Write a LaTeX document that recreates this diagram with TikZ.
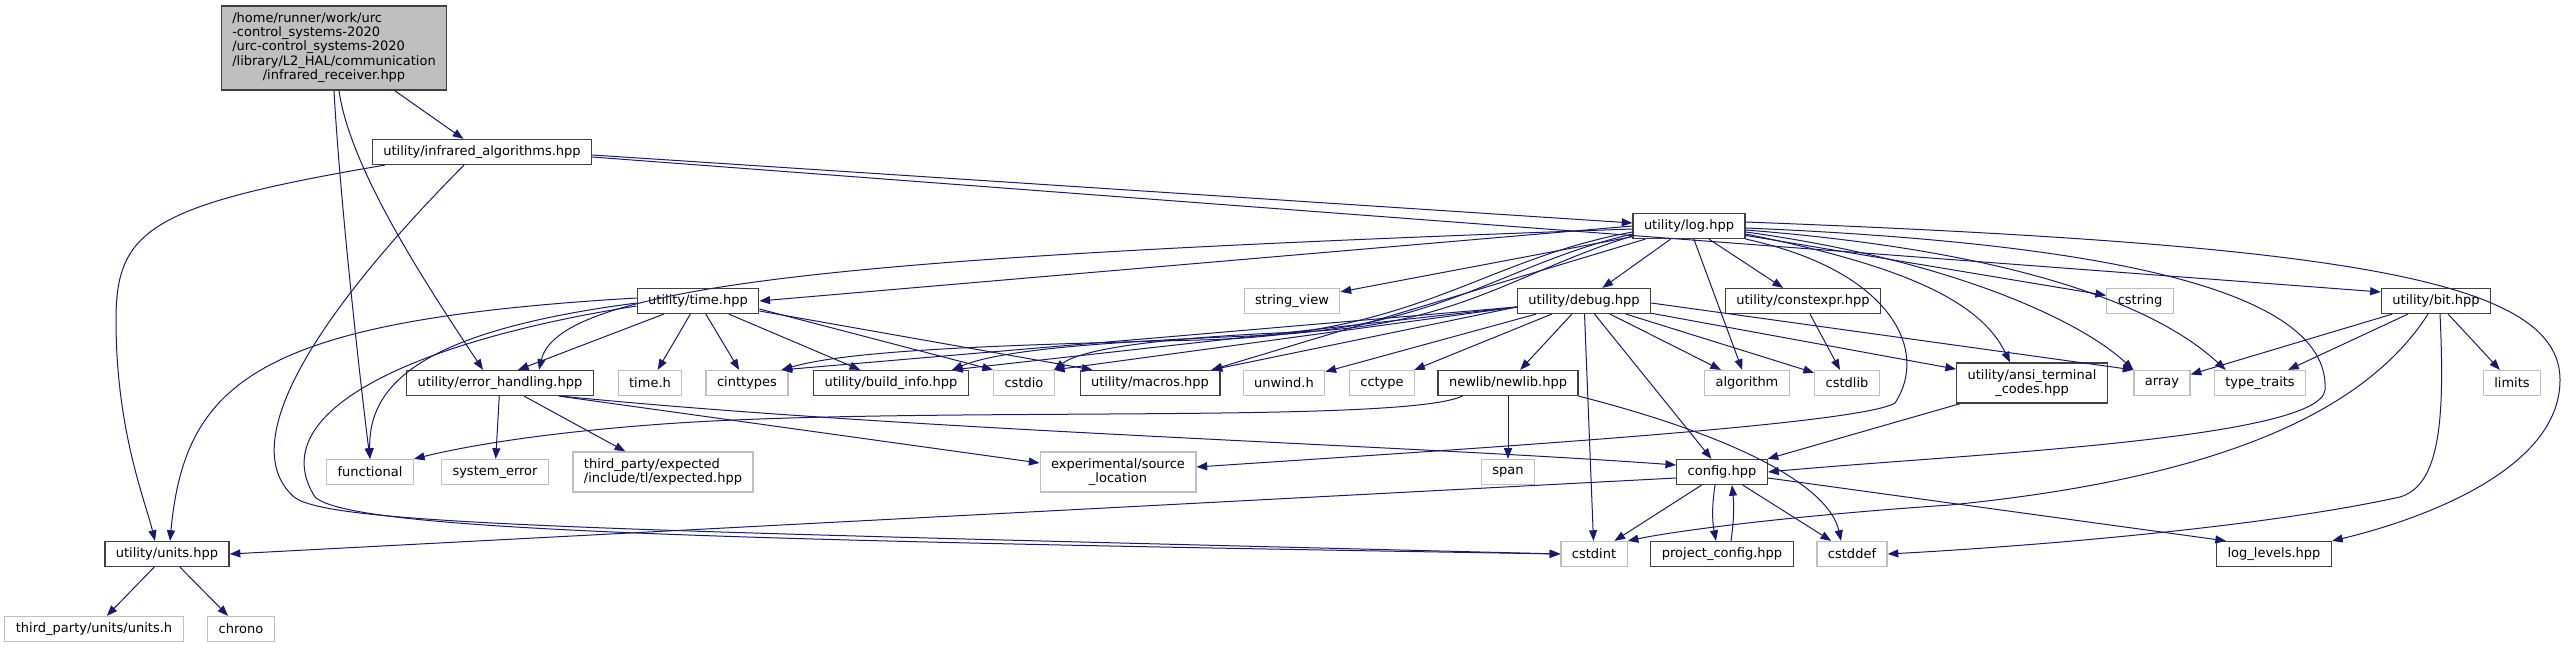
\documentclass[tikz,border=0pt]{standalone}
\usepackage{fontspec}
\setmainfont{DejaVu Sans}
\usetikzlibrary{arrows.meta,calc}

\definecolor{edgeblue}{HTML}{191970}
\definecolor{boxdark}{HTML}{404040}
\definecolor{boxgray}{HTML}{BFBFBF}

\tikzset{
  hdr/.style={draw=boxdark,line width=0.9pt,fill=white,minimum height=18.75pt,
    inner xsep=8.25pt,inner ysep=2pt,font=\fontsize{9.75pt}{10.8pt}\selectfont},
  sys/.style={hdr,draw=boxgray},
  twoline/.style={minimum height=30pt,align=center},
  inc/.style={draw=edgeblue,line width=0.75pt,-{Triangle[length=8pt,width=6pt]}},
}

\begin{document}
\begin{tikzpicture}[x=0.75pt,y=-0.75pt]
\useasboundingbox (0,0) rectangle (2569,648);

\node[hdr,fill=boxgray,minimum height=63pt] (main) at (334,48)
  {\begin{tabular}{@{}l@{}}/home/runner/work/urc\\-control\_systems-2020\\/urc-control\_systems-2020\\/library/L2\_HAL/communication\\\multicolumn{1}{@{}c@{}}{/infrared\_receiver.hpp}\end{tabular}};
\node[hdr] (ira) at (482,152) {utility/infrared\_algorithms.hpp};
\node[hdr] (log) at (1689,226) {utility/log.hpp};

\node[hdr] (timehpp) at (698,301) {utility/time.hpp};
\node[sys] (sview) at (1292,301) {string\_view};
\node[hdr] (debug) at (1584,301) {utility/debug.hpp};
\node[hdr] (cexpr) at (1803,301) {utility/constexpr.hpp};
\node[sys] (cstring) at (2140,301) {cstring};
\node[hdr] (bit) at (2436,301) {utility/bit.hpp};

\node[hdr] (errh) at (500,383) {utility/error\_handling.hpp};
\node[sys] (timeh) at (650,383) {time.h};
\node[sys] (cinttypes) at (747,383) {cinttypes};
\node[hdr] (binfo) at (891,383) {utility/build\_info.hpp};
\node[sys] (cstdio) at (1024,383) {cstdio};
\node[hdr] (macros) at (1150,383) {utility/macros.hpp};
\node[sys] (unwind) at (1284,383) {unwind.h};
\node[sys] (cctype) at (1382,383) {cctype};
\node[hdr] (newlib) at (1508,383) {newlib/newlib.hpp};
\node[sys] (algorithm) at (1747,383) {algorithm};
\node[sys] (cstdlib) at (1847,383) {cstdlib};
\node[hdr,twoline] (ansi) at (2032,383) {utility/ansi\_terminal\\\_codes.hpp};
\node[sys] (array) at (2162,383) {array};
\node[sys] (ttraits) at (2260,383) {type\_traits};
\node[sys] (limits) at (2512,383) {limits};

\node[sys] (functional) at (370,472) {functional};
\node[sys] (syserr) at (495,472) {system\_error};
\node[sys,twoline,align=left] (expected) at (663,472) {third\_party/expected\\/include/tl/expected.hpp};
\node[sys,twoline] (srcloc) at (1118,472) {experimental/source\\\_location};
\node[sys] (span) at (1508,472) {span};
\node[hdr] (config) at (1722,472) {config.hpp};

\node[hdr] (units) at (167,554) {utility/units.hpp};
\node[sys] (cstdint) at (1594,554) {cstdint};
\node[hdr] (pconfig) at (1722,554) {project\_config.hpp};
\node[sys] (cstddef) at (1852,554) {cstddef};
\node[hdr] (loglevels) at (2274,554) {log\_levels.hpp};

\node[sys] (unitsh) at (94,629) {third\_party/units/units.h};
\node[sys] (chrono) at (241,629) {chrono};

\draw[inc] (main) -- (ira);
\draw[inc] (main.south) .. controls (340,200) and (360,380) .. (functional.north);
\draw[inc] ($(main.south)+(5,0)$) .. controls (350,170) and (430,290) .. ($(errh.north)+(-17,0)$);

\draw[inc] ($(ira.east)+(0,3)$) -- ($(log.west)+(0,-3)$);
\draw[inc] ($(ira.east)+(0,5)$) -- ($(bit.west)+(0,-9)$);
\draw[inc] ($(ira.south west)+(13,0)$) .. controls (150,205) and (116,230) .. (116,320)
  .. controls (116,430) and (145,500) .. ($(units.north)+(-12,0)$);
\draw[inc] ($(ira.south)+(-18,0)$) .. controls (330,300) and (230,440) .. (294,497)
  .. controls (330,525) and (600,530) .. (cstdint.west);

\draw[inc] ($(timehpp.west)+(0,5)$) .. controls (420,340) and (260,410) .. (315,497)
  .. controls (350,530) and (700,540) .. (cstdint.west);
\draw[inc] ($(timehpp.west)+(0,-3)$) .. controls (260,320) and (185,380) .. ($(units.north)+(3,0)$);
\draw[inc] ($(timehpp.west)+(0,2)$) .. controls (430,330) and (368,380) .. (functional.north);
\draw[inc] (timehpp) -- ($(errh.north)+(18,0)$);
\draw[inc] (timehpp) -- (timeh);
\draw[inc] (timehpp) -- (cinttypes);
\draw[inc] (timehpp) -- (binfo);
\draw[inc] ($(timehpp.east)+(0,8)$) -- (cstdio.north west);
\draw[inc] ($(timehpp.east)+(0,10)$) -- ($(macros.north west)+(13,0)$);

\draw[inc] (log.west) -- (timehpp.east);
\draw[inc] ($(log.west)+(0,3)$) .. controls (900,255) and (560,280) .. ($(errh.north)+(39,0)$);
\draw[inc] (log) -- (sview);
\draw[inc] (log) -- (debug);
\draw[inc] (log) -- (cexpr);
\draw[inc] (log) -- (algorithm);
\draw[inc] (log) -- (cstring);
\draw[inc] ($(log.west)+(0,6)$) .. controls (1480,260) and (1420,335) .. (1200,340)
  .. controls (1000,345) and (850,350) .. ($(cinttypes.north east)+(-7,0)$);
\draw[inc] ($(log.west)+(0,8)$) .. controls (1500,265) and (1440,330) .. (1250,336)
  .. controls (1100,342) and (1000,350) .. ($(binfo.north east)+(-17,0)$);
\draw[inc] ($(log.west)+(0,10)$) .. controls (1520,270) and (1460,325) .. (1300,332)
  .. controls (1150,338) and (1080,350) .. ($(cstdio.north east)+(-1,0)$);
\draw[inc] ($(log.south west)+(13,0)$) -- ($(macros.north east)+(-9,0)$);
\draw[inc] ($(log.east)+(0,8)$) .. controls (1900,265) and (1980,300) .. ($(ansi.north)+(-22,0)$);
\draw[inc] ($(log.east)+(0,6)$) .. controls (1950,260) and (2080,320) .. (array.north west);
\draw[inc] ($(log.east)+(0,4)$) .. controls (2000,250) and (2150,300) .. ($(ttraits.north west)+(12,0)$);
\draw[inc] ($(log.east)+(0,2)$) .. controls (2150,245) and (2330,300) .. (2325,390)
  .. controls (2320,440) and (1950,455) .. (config.east);
\draw[inc] (log.south east) .. controls (1890,270) and (1930,350) .. (1895,403)
  .. controls (1860,425) and (1450,450) .. ($(srcloc.east)+(0,-5)$);
\draw[inc] ($(log.east)+(0,-4)$) .. controls (2350,245) and (2560,280) .. (2560,380)
  .. controls (2560,470) and (2420,520) .. (loglevels.north east);

\draw[inc] ($(debug.west)+(0,6)$) -- ($(cinttypes.north east)+(-7,0)$);
\draw[inc] ($(debug.west)+(0,6)$) -- ($(binfo.north east)+(-17,0)$);
\draw[inc] ($(debug.west)+(0,6)$) -- ($(cstdio.north east)+(-1,0)$);
\draw[inc] ($(debug.west)+(0,6)$) -- ($(macros.north east)+(-9,0)$);
\draw[inc] (debug) -- (newlib);
\draw[inc] (debug) -- (cctype);
\draw[inc] (debug) -- (unwind);
\draw[inc] (debug) -- (cstdint);
\draw[inc] (debug) -- (config);
\draw[inc] (debug) -- (algorithm);
\draw[inc] (debug) -- (cstdlib);
\draw[inc] (debug) -- (ansi);
\draw[inc] ($(debug.east)+(0,2)$) -- (array.north west);

\draw[inc] (cexpr) -- (cstdlib);

\draw[inc] (bit) -- (array);
\draw[inc] (bit) -- (ttraits);
\draw[inc] (bit) -- (limits);
\draw[inc] ($(bit.south)+(-8,0)$) .. controls (2360,420) and (2200,480) .. (1950,505)
  .. controls (1800,515) and (1680,530) .. (cstdint.north east);
\draw[inc] ($(bit.south)+(4,0)$) .. controls (2445,420) and (2440,485) .. (2400,497)
  .. controls (2250,530) and (2000,548) .. (cstddef.east);

\draw[inc] (newlib) -- (span);
\draw[inc] ($(newlib.south west)+(25,0)$) .. controls (1400,425) and (900,405) .. (650,425)
  .. controls (520,435) and (450,450) .. (functional.north east);
\draw[inc] (newlib.south east) .. controls (1750,440) and (1830,490) .. ($(cstddef.north)+(-11,0)$);

\draw[inc] (ansi) -- (config);

\draw[inc] (errh) -- (syserr);
\draw[inc] (errh) -- (expected);
\draw[inc] ($(errh.south east)+(-35,0)$) -- ($(srcloc.west)+(0,-9)$);
\draw[inc] ($(errh.south east)+(-33,0)$) .. controls (900,430) and (1400,445) .. ($(config.west)+(0,-7)$);

\draw[inc] (config) -- (cstdint);
\draw[inc] ($(config.south)+(-7,0)$) .. controls (1712,505) and (1712,520) .. ($(pconfig.north)+(-6,0)$);
\draw[inc] ($(pconfig.north)+(9,0)$) .. controls (1734,520) and (1734,505) .. ($(config.south)+(10,0)$);
\draw[inc] (config) -- (cstddef);
\draw[inc] ($(config.east)+(0,6)$) -- ($(loglevels.north west)+(10,0)$);
\draw[inc] ($(config.west)+(0,6)$) -- (units.east);

\draw[inc] (units) -- (unitsh);
\draw[inc] (units) -- (chrono);

\end{tikzpicture}
\end{document}
